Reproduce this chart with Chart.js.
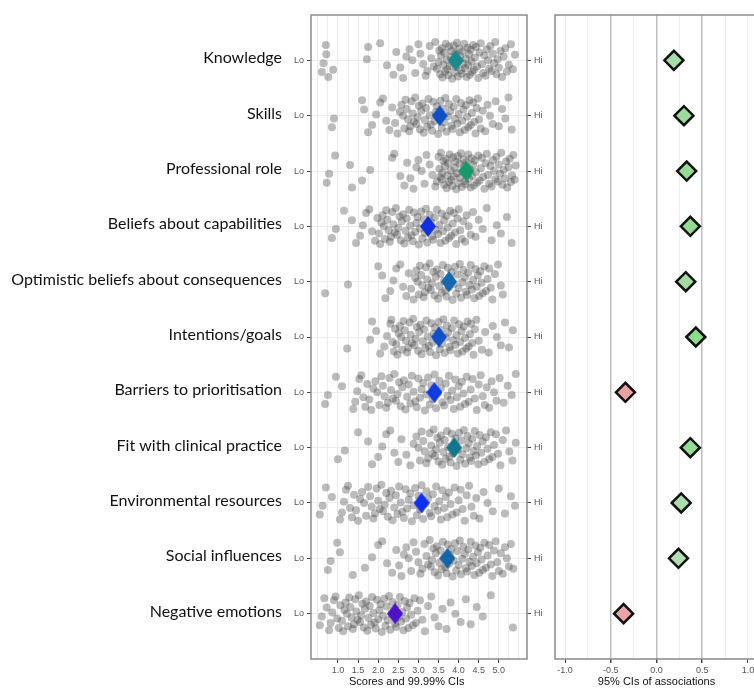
<!DOCTYPE html>
<html lang="en">
<head>
  <meta charset="UTF-8" />
  <title>Scores and associations</title>
  <script src="https://cdn.jsdelivr.net/npm/chart.js"></script>
  <style>
    body { margin: 0; background: #fff; overflow: hidden; }
    .wrap { position: relative; width: 754px; height: 690px; overflow: hidden; }
    #scoreChart { position: absolute; left: 0; top: 0; }
    #assocChart { position: absolute; left: 540px; top: 0; }
  </style>
</head>
<body>
  <div class="wrap">
    <canvas id="scoreChart" width="550" height="690"></canvas>
    <canvas id="assocChart" width="230" height="690"></canvas>
  </div>

  <script>
    const categories = ['Knowledge', 'Skills', 'Professional role', 'Beliefs about capabilities',
      'Optimistic beliefs about consequences', 'Intentions/goals', 'Barriers to prioritisation',
      'Fit with clinical practice', 'Environmental resources', 'Social influences', 'Negative emotions'];
    const meanScores = [3.93, 3.53, 4.19, 3.24, 3.76, 3.51, 3.40, 3.89, 3.08, 3.72, 2.42];
    const meanColors = ['#1b8a8c', '#0f4fc4', '#169a6c', '#0f2fe0', '#1468b0', '#0f50c8',
      '#0f3be0', '#11788f', '#0f2ff5', '#1465a8', '#5010c8'];
    const assocValues = [0.19, 0.30, 0.33, 0.37, 0.32, 0.43, -0.34, 0.37, 0.27, 0.24, -0.36];
    const assocFill = ['#a8dca8', '#9ed99e', '#97da97', '#93dc93', '#a3dba3', '#8ddc8d',
      '#e8a2a2', '#95db95', '#abdcab', '#b2dcb2', '#e9a5a5'];
    const scoreTickLabels = ['1.0', '1.5', '2.0', '2.5', '3.0', '3.5', '4.0', '4.5', '5.0'];
    const assocTickLabels = ['-1.0', '-0.5', '0.0', '0.5', '1.0'];

    // vertical jitter of the individual scores (row units)
    const jitterY = [0.21,0.05,-0.28,-0.11,0.30,0.17,-0.02,-0.24,-0.31,0.09,
      0.26,-0.15,0.13,0.32,-0.07,-0.20,0.00,0.23,-0.29,-0.12,
      0.07,0.28,0.19,-0.26,-0.04,0.11,-0.33,0.15,0.03,-0.18,
      0.25,-0.09,-0.22,0.31,0.08,-0.14,0.20,-0.30,-0.01,0.16,
      0.27,-0.25,0.10,-0.06,-0.17,0.33,0.04,-0.27,0.22,-0.13,
      0.12,-0.32,0.29,0.01,-0.21,-0.08,0.18,0.24,-0.16,0.06,
      -0.30,0.14,-0.03,0.30,-0.23,0.09,-0.11,0.26,-0.19,0.02,
      0.21,-0.28,0.17,-0.05,-0.24,0.11,0.32,-0.14,-0.31,0.07,
      0.23,-0.09,0.28,-0.20,0.00,0.15,-0.26,0.19,-0.12,0.05,
      -0.33,0.25,-0.02,0.13,-0.17,0.30,-0.07,-0.22,0.20,0.08,
      -0.29,0.16,-0.10,0.27,0.03,-0.25,0.12,-0.15,0.31,-0.04,
      0.22,-0.18,0.06,-0.27,0.18,-0.08,0.24,-0.30,0.10,-0.13];

    const scoresKnowledge = [0.60,0.64,0.70,0.71,0.76,0.88,1.72,1.75,2.05,2.22,2.38,2.45,2.55,2.62,2.70,2.78,2.85,2.92,3.00,3.05,
      3.12,3.18,3.22,3.28,3.32,3.38,3.42,3.46,3.50,3.52,3.54,3.56,3.58,3.60,3.62,3.64,3.66,3.68,3.70,3.72,3.74,3.76,3.78,3.80,
      3.82,3.84,3.86,3.88,3.90,3.92,3.94,3.96,3.98,4.00,4.02,4.04,4.06,4.08,4.10,4.12,4.14,4.16,4.18,4.20,4.22,4.24,4.26,4.28,
      4.30,4.32,4.34,4.36,4.38,4.40,4.43,4.46,4.49,4.52,4.55,4.58,4.61,4.64,4.67,4.70,4.73,4.76,4.79,4.82,4.85,4.88,4.91,4.94,
      4.97,5.00,5.04,5.08,5.12,5.16,5.20,5.25,5.30,5.35,5.40];
    const scoresSkills = [0.85,0.90,1.60,1.65,1.75,1.85,1.95,2.05,2.12,2.20,2.28,2.35,2.42,2.48,2.54,2.58,2.62,2.65,2.68,2.71,
      2.74,2.77,2.80,2.83,2.86,2.89,2.92,2.95,2.98,3.01,3.04,3.07,3.10,3.13,3.16,3.19,3.22,3.25,3.28,3.31,3.34,3.37,3.40,3.43,
      3.46,3.49,3.52,3.55,3.58,3.61,3.64,3.67,3.70,3.73,3.76,3.79,3.82,3.85,3.88,3.91,3.94,3.97,4.00,4.03,4.06,4.09,4.12,4.15,
      4.18,4.21,4.24,4.27,4.30,4.33,4.36,4.39,4.42,4.45,4.48,4.51,4.55,4.60,4.66,4.72,4.78,4.85,4.92,5.00,5.08,5.16,5.24,5.32];
    const scoresRole = [0.72,0.78,0.93,1.30,1.35,1.60,1.80,2.35,2.40,2.55,2.65,2.72,2.80,2.88,2.95,3.00,3.08,3.15,3.20,3.28,
      3.35,3.42,3.46,3.50,3.52,3.54,3.56,3.58,3.60,3.62,3.64,3.66,3.68,3.70,3.72,3.74,3.76,3.78,3.80,3.82,3.84,3.86,3.88,3.90,
      3.92,3.94,3.96,3.98,4.00,4.02,4.04,4.06,4.08,4.10,4.12,4.14,4.16,4.18,4.20,4.22,4.24,4.26,4.28,4.30,4.32,4.34,4.36,4.38,
      4.40,4.43,4.46,4.49,4.52,4.55,4.58,4.61,4.64,4.67,4.70,4.73,4.76,4.79,4.82,4.85,4.88,4.91,4.94,4.97,5.00,5.03,5.06,5.09,
      5.12,5.15,5.18,5.21,5.24,5.27,5.30,5.33,5.36,5.39,5.42];
    const scoresCapabilities = [0.85,0.95,1.15,1.35,1.45,1.55,1.62,1.70,1.78,1.85,1.92,1.98,2.02,2.05,2.08,2.11,2.14,2.17,2.20,
      2.23,2.26,2.29,2.32,2.35,2.38,2.41,2.44,2.47,2.50,2.53,2.56,2.59,2.62,2.65,2.68,2.71,2.74,2.77,2.80,2.83,2.86,2.89,2.92,
      2.95,2.98,3.01,3.04,3.07,3.10,3.13,3.16,3.19,3.22,3.25,3.28,3.31,3.34,3.37,3.40,3.43,3.46,3.49,3.52,3.55,3.58,3.61,3.64,
      3.67,3.70,3.73,3.76,3.79,3.82,3.85,3.88,3.91,3.94,3.97,4.00,4.04,4.08,4.12,4.16,4.20,4.25,4.30,4.36,4.42,4.50,4.60,4.70,
      4.82,4.95,5.05,5.20,5.32];
    const scoresOptimistic = [0.68,1.25,2.00,2.10,2.18,2.30,2.38,2.45,2.55,2.62,2.70,2.76,2.82,2.88,2.92,2.95,2.98,3.01,3.04,
      3.07,3.10,3.13,3.16,3.19,3.22,3.25,3.28,3.31,3.34,3.37,3.40,3.43,3.46,3.49,3.52,3.55,3.58,3.61,3.64,3.67,3.70,3.73,3.76,
      3.79,3.82,3.85,3.88,3.91,3.94,3.97,4.00,4.03,4.06,4.09,4.12,4.15,4.18,4.21,4.24,4.27,4.30,4.33,4.36,4.39,4.42,4.45,4.48,
      4.51,4.54,4.57,4.60,4.64,4.68,4.72,4.76,4.80,4.84,4.90,4.98,5.05,5.10];
    const scoresIntentions = [1.23,1.80,1.85,1.95,2.05,2.15,2.22,2.30,2.33,2.36,2.39,2.42,2.45,2.48,2.51,2.54,2.57,2.60,2.63,
      2.66,2.69,2.72,2.75,2.78,2.81,2.84,2.87,2.90,2.93,2.96,2.99,3.02,3.05,3.08,3.11,3.14,3.17,3.20,3.23,3.26,3.29,3.32,3.35,
      3.38,3.41,3.44,3.47,3.50,3.53,3.56,3.59,3.62,3.65,3.68,3.71,3.74,3.77,3.80,3.83,3.86,3.89,3.92,3.95,3.98,4.01,4.04,4.07,
      4.10,4.13,4.16,4.19,4.22,4.25,4.28,4.31,4.34,4.37,4.40,4.44,4.50,4.58,4.66,4.75,4.85,4.95,5.05,5.15,5.25,5.35];
    const scoresBarriers = [0.68,0.75,0.95,1.10,1.38,1.43,1.48,1.53,1.58,1.63,1.68,1.73,1.78,1.83,1.88,1.93,1.98,2.03,2.08,2.12,
      2.16,2.20,2.24,2.28,2.32,2.36,2.40,2.44,2.48,2.52,2.56,2.60,2.64,2.68,2.72,2.76,2.80,2.84,2.88,2.92,2.96,3.00,3.04,3.08,
      3.12,3.16,3.20,3.24,3.28,3.32,3.36,3.40,3.44,3.48,3.52,3.56,3.60,3.64,3.68,3.72,3.76,3.80,3.84,3.88,3.92,3.96,4.00,4.04,
      4.08,4.12,4.16,4.20,4.25,4.30,4.35,4.40,4.45,4.50,4.55,4.60,4.65,4.70,4.76,4.82,4.88,4.94,5.02,5.12,5.22,5.32,5.42];
    const scoresFit = [1.00,1.17,1.50,1.75,1.85,2.00,2.10,2.20,2.30,2.40,2.50,2.58,2.70,2.80,2.88,2.95,3.00,3.04,3.08,3.12,3.16,
      3.20,3.24,3.28,3.32,3.35,3.38,3.41,3.44,3.47,3.50,3.53,3.56,3.59,3.62,3.65,3.68,3.71,3.74,3.77,3.80,3.83,3.86,3.89,3.92,
      3.95,3.98,4.01,4.04,4.07,4.10,4.13,4.16,4.19,4.22,4.25,4.28,4.31,4.34,4.37,4.40,4.43,4.46,4.49,4.52,4.56,4.60,4.64,4.68,
      4.72,4.76,4.80,4.84,4.88,4.93,4.98,5.04,5.10,5.18,5.26,5.34,5.42];
    const scoresEnvironment = [0.55,0.62,0.70,0.85,1.05,1.10,1.15,1.20,1.25,1.30,1.35,1.40,1.45,1.50,1.55,1.60,1.65,1.70,1.75,
      1.80,1.84,1.88,1.92,1.96,2.00,2.04,2.08,2.12,2.16,2.20,2.24,2.28,2.32,2.36,2.40,2.44,2.48,2.52,2.56,2.60,2.64,2.68,2.72,
      2.76,2.80,2.84,2.88,2.92,2.96,3.00,3.04,3.08,3.12,3.16,3.20,3.24,3.28,3.32,3.36,3.40,3.44,3.48,3.52,3.56,3.60,3.64,3.68,
      3.72,3.76,3.80,3.85,3.90,3.95,4.00,4.05,4.10,4.15,4.20,4.26,4.32,4.38,4.44,4.52,4.62,4.72,4.85,5.00,5.15,5.30,5.40];
    const scoresSocial = [0.75,0.82,0.98,1.05,1.37,1.67,1.85,2.00,2.10,2.22,2.35,2.45,2.52,2.58,2.64,2.70,2.76,2.82,2.88,2.94,
      3.00,3.05,3.10,3.15,3.20,3.24,3.28,3.31,3.34,3.37,3.40,3.43,3.46,3.49,3.52,3.55,3.58,3.61,3.64,3.67,3.70,3.73,3.76,3.79,
      3.82,3.85,3.88,3.91,3.94,3.97,4.00,4.03,4.06,4.09,4.12,4.15,4.18,4.21,4.24,4.27,4.30,4.33,4.36,4.39,4.42,4.45,4.48,4.51,
      4.54,4.57,4.60,4.64,4.68,4.72,4.76,4.80,4.84,4.88,4.92,4.96,5.00,5.05,5.10,5.15,5.20,5.25,5.30,5.36];
    const scoresNegative = [0.55,0.60,0.66,0.72,0.78,0.82,0.86,0.90,0.94,0.98,1.02,1.06,1.10,1.13,1.16,1.19,1.22,1.25,1.28,1.31,
      1.34,1.37,1.40,1.43,1.46,1.49,1.52,1.55,1.58,1.61,1.64,1.67,1.70,1.73,1.76,1.79,1.82,1.85,1.88,1.91,1.94,1.97,2.00,2.03,
      2.06,2.09,2.12,2.15,2.18,2.21,2.24,2.27,2.30,2.33,2.36,2.39,2.42,2.45,2.48,2.51,2.54,2.57,2.60,2.63,2.66,2.69,2.72,2.75,
      2.78,2.82,2.86,2.90,2.94,2.98,3.04,3.10,3.16,3.24,3.32,3.40,3.50,3.60,3.70,3.80,3.92,4.05,4.18,4.30,4.45,4.60,4.80,5.35];

    const rowScores = [scoresKnowledge, scoresSkills, scoresRole, scoresCapabilities, scoresOptimistic, scoresIntentions,
      scoresBarriers, scoresFit, scoresEnvironment, scoresSocial, scoresNegative];

    const Y_MIN = -0.82, Y_MAX = 10.82;
    const tickFont = { family: 'Liberation Sans', size: 9 };
    const titleFont = { family: 'Liberation Sans', size: 11 };

    function diamond(color, w, h) {
      const c = document.createElement('canvas');
      c.width = w; c.height = h;
      const g = c.getContext('2d');
      g.fillStyle = color;
      g.beginPath();
      g.moveTo(w / 2, 0); g.lineTo(w, h / 2); g.lineTo(w / 2, h); g.lineTo(0, h / 2);
      g.closePath();
      g.fill();
      return c;
    }

    const framePlugin = {
      id: 'frame',
      afterDraw(chart) {
        const a = chart.chartArea, ctx = chart.ctx;
        ctx.save();
        ctx.strokeStyle = '#8a8a8a';
        ctx.lineWidth = 1.5;
        ctx.strokeRect(a.left, a.top, a.right - a.left, a.bottom - a.top);
        ctx.restore();
      }
    };

    function rowTicks(axis) {
      axis.ticks = categories.map((c, i) => ({ value: i }));
    }
    function quarterTicks(from, to) {
      return axis => {
        axis.ticks = [];
        for (let v = from; v <= to + 1e-9; v += 0.25) axis.ticks.push({ value: Math.round(v * 100) / 100 });
      };
    }
    const isHalf = v => Math.abs(v * 2 - Math.round(v * 2)) < 1e-9;

    // left panel: individual scores + means (means first so they sit on top)
    const scoreDatasets = [{
      data: meanScores.map((m, i) => ({ x: m, y: i })),
      pointStyle: meanColors.map(c => diamond(c, 16, 21)),
      pointRadius: 10
    }];
    rowScores.forEach((list, row) => {
      scoreDatasets.push({
        data: list.map((s, k) => ({ x: s, y: row + jitterY[k % jitterY.length] })),
        pointRadius: 4,
        pointBorderWidth: 0,
        pointBackgroundColor: 'rgba(60,60,60,0.35)'
      });
    });

    new Chart(document.getElementById('scoreChart'), {
      type: 'scatter',
      data: { datasets: scoreDatasets },
      options: {
        responsive: false,
        animation: false,
        layout: { padding: { top: 15 } },
        plugins: { legend: { display: false }, tooltip: { enabled: false } },
        scales: {
          x: {
            type: 'linear', min: 0.33, max: 5.70,
            afterBuildTicks: quarterTicks(0.5, 5.5),
            afterFit: axis => { axis.height = 31; },
            border: { display: false },
            grid: {
              color: '#ececec', tickLength: 4,
              tickColor: ctx => (isHalf(ctx.tick.value) && scoreTickLabels.includes(ctx.tick.value.toFixed(1))) ? '#444' : 'rgba(0,0,0,0)'
            },
            ticks: {
              autoSkip: false, maxRotation: 0, padding: 2, color: '#555', font: tickFont,
              callback: v => (isHalf(v) && scoreTickLabels.includes(v.toFixed(1))) ? v.toFixed(1) : ''
            },
            title: { display: true, text: 'Scores and 99.99% CIs        ', color: '#111', font: titleFont, padding: { top: 0, bottom: 1 } }
          },
          y: {
            type: 'linear', min: Y_MIN, max: Y_MAX, reverse: true, position: 'left', weight: 0,
            afterBuildTicks: rowTicks,
            afterFit: axis => { axis.width = 29; },
            border: { display: false },
            grid: { color: '#ececec', tickLength: 4, tickColor: '#444' },
            ticks: { padding: 3, color: '#555', font: { family: 'Liberation Sans', size: 9 }, callback: () => 'Lo' }
          },
          ycat: {
            type: 'linear', min: Y_MIN + 0.04, max: Y_MAX + 0.04, reverse: true, position: 'left', weight: 1,
            afterBuildTicks: rowTicks,
            afterFit: axis => { axis.width = 282; },
            border: { display: false },
            grid: { display: false, drawTicks: false },
            ticks: { padding: 0, color: '#111', font: { family: 'Lato', size: 16 }, callback: v => categories[v] }
          },
          yhi: {
            type: 'linear', min: Y_MIN, max: Y_MAX, reverse: true, position: 'right',
            afterBuildTicks: rowTicks,
            afterFit: axis => { axis.width = 23; },
            border: { display: false },
            grid: { drawOnChartArea: false, tickLength: 4, tickColor: '#444' },
            ticks: { padding: 3, color: '#555', font: { family: 'Liberation Sans', size: 9 }, callback: () => 'Hi' }
          }
        }
      },
      plugins: [framePlugin]
    });

    // right panel: associations
    new Chart(document.getElementById('assocChart'), {
      type: 'scatter',
      data: {
        datasets: [{
          data: assocValues.map((a, i) => ({ x: a, y: i })),
          pointStyle: 'rectRot',
          pointRadius: 9.5,
          pointBackgroundColor: assocFill,
          pointBorderColor: '#111',
          pointBorderWidth: 2.5
        }]
      },
      options: {
        responsive: false,
        animation: false,
        layout: { padding: { top: 15, left: 15, right: 12 } },
        plugins: { legend: { display: false }, tooltip: { enabled: false } },
        scales: {
          x: {
            type: 'linear', min: -1.11, max: 1.11,
            afterBuildTicks: quarterTicks(-1.0, 1.0),
            afterFit: axis => { axis.height = 31; },
            border: { display: false },
            grid: {
              color: ctx => [-0.5, 0, 0.5].includes(ctx.tick.value) ? '#bdbdbd' : '#eeeeee',
              lineWidth: ctx => [-0.5, 0, 0.5].includes(ctx.tick.value) ? 1.5 : 1,
              tickLength: 4,
              tickColor: ctx => isHalf(ctx.tick.value) ? '#444' : 'rgba(0,0,0,0)'
            },
            ticks: {
              autoSkip: false, maxRotation: 0, padding: 2, color: '#555', font: tickFont,
              callback: v => {
                const s = v.toFixed(1);
                return (isHalf(v) && assocTickLabels.includes(s)) ? s : '';
              }
            },
            title: { display: true, text: '95% CIs of associations', color: '#111', font: titleFont, padding: { top: 0, bottom: 1 } }
          },
          y: { type: 'linear', min: Y_MIN, max: Y_MAX, reverse: true, display: false }
        }
      },
      plugins: [framePlugin]
    });
  </script>
</body>
</html>
